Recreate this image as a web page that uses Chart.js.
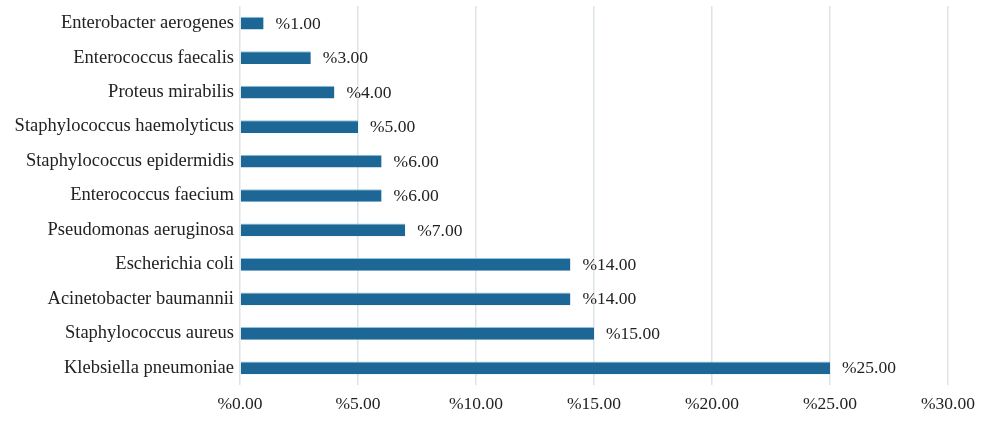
<!DOCTYPE html>
<html>
<head>
<meta charset="utf-8">
<script src="https://cdn.jsdelivr.net/npm/chart.js@4"></script>
<style>
html,body{margin:0;padding:0;background:#fff;}
#wrap{width:1000px;height:424px;}
</style>
</head>
<body>
<div id="wrap"><canvas id="c" width="1000" height="424"></canvas></div>
<script>
const categories = ["Enterobacter aerogenes","Enterococcus faecalis","Proteus mirabilis","Staphylococcus haemolyticus","Staphylococcus epidermidis","Enterococcus faecium","Pseudomonas aeruginosa","Escherichia coli","Acinetobacter baumannii","Staphylococcus aureus","Klebsiella pneumoniae"];
const values = [1,3,4,5,6,6,7,14,14,15,25];
const xTicks = [0,5,10,15,20,25,30];

const FONT = "'Liberation Serif', serif";
const labelPlugin = {
  id:'vals',
  afterDatasetsDraw(chart){
    const ctx = chart.ctx;
    const meta = chart.getDatasetMeta(0);
    ctx.save();
    ctx.font = "17.5px " + FONT;
    ctx.fillStyle = "#222";
    ctx.textAlign = "left";
    ctx.textBaseline = "middle";
    meta.data.forEach((bar,i)=>{
      ctx.fillText("%" + values[i].toFixed(2), bar.x + 12, bar.y + 1);
    });
    ctx.restore();
  }
};

new Chart(document.getElementById('c'), {
  type:'bar',
  data:{labels:categories, datasets:[{data:values, backgroundColor:'#1c6796', borderColor:'#8fc3e0', borderWidth:{top:1,bottom:0,left:0,right:0}, borderSkipped:false, barPercentage:0.37, categoryPercentage:1}]},
  options:{
    indexAxis:'y',
    responsive:false,
    animation:false,
    devicePixelRatio:1,
    layout:{padding:{left:0,right:52,top:6,bottom:0}},
    plugins:{legend:{display:false},tooltip:{enabled:false}},
    scales:{
      x:{
        min:0,max:30,
        afterBuildTicks(s){ s.ticks = xTicks.map(v=>({value:v})); },
        afterFit(s){ s.height = 39; },
        grid:{color:'#dde3e6',lineWidth:1.5,drawTicks:false},
        border:{display:false},
        ticks:{padding:9,color:'#222',font:{family:FONT,size:17.5},callback:(v)=>"%"+Number(v).toFixed(2),maxRotation:0}
      },
      y:{
        grid:{display:false,drawTicks:false},
        border:{display:false},
        afterFit(s){ s.width = 240; s.paddingTop = 0; s.paddingBottom = 0; },
        ticks:{padding:6,color:'#222',font:{family:FONT,size:18.5}}
      }
    }
  },
  plugins:[labelPlugin]
});
</script>
</body>
</html>
